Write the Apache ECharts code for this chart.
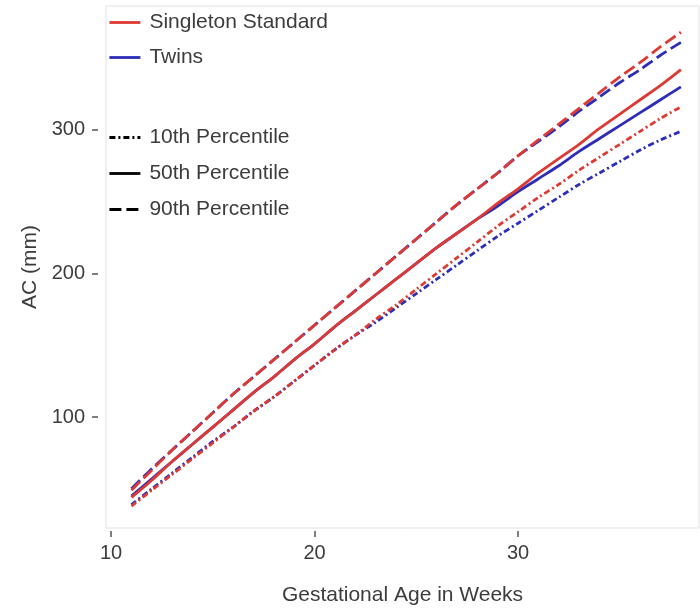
<!DOCTYPE html>
<html>
<head>
<meta charset="utf-8">
<script src="https://cdn.jsdelivr.net/npm/echarts@6/dist/echarts.min.js"></script>
<style>
html,body{margin:0;padding:0;background:#fff;}
#chart{width:700px;height:611px;}
</style>
</head>
<body>
<div id="chart"></div>
<script>
const weeks = [11,12,13,14,15,16,17,18,19,20,21,22,23,24,25,26,27,28,29,30,31,32,33,34,35,36,37,38];

const singleton10 = [38,49,60,71,82,93,104,114,125,136,147,157,168,178,189,200,211,222,233,243,253,262,272,281,290,299,308,316];
const singleton50 = [44,56,69,81,93,105,117,128,140,151,163,174,185,196,207,218,228,238,249,259,270,280,290,301,311,321,331,342];
const singleton90 = [49,63,77,90,103,116,128,140,152,164,176,188,200,212,224,236,248,259,270,282,293,304,315,326,337,347,358,368];

const twins10 = [39,50,61,72,83,93,104,114,125,136,147,157,166,176,186,196,206,216,226,235,244,253,262,270,278,286,293,299];
const twins50 = [45,57,69,81,93,105,117,128,140,151,163,174,185,196,207,218,228,238,247,257,266,275,285,294,303,312,321,330];
const twins90 = [50,64,77,90,103,116,128,140,152,164,176,188,200,212,224,236,248,259,270,282,292,302,313,323,333,342,352,361];

const xTicks = [10,20,30];
const yTicks = [100,200,300];

const groupNames = ['Singleton Standard','Twins'];
const pctNames = ['10th Percentile','50th Percentile','90th Percentile'];

const RED = '#de3a34';
const BLUE = '#2d2db8';
const DASH = [12,5];
const DASHDOT = [6,3,2,3];
const LW = 2.8;

function pts(vals){ return weeks.map((w,i)=>[w, vals[i]]); }

function mk(name, vals, color, type){
  return {
    name: name, type: 'line', data: pts(vals), symbol: 'none', smooth: 0.3,
    lineStyle: {color: color, width: LW, type: type},
    itemStyle: {color: color},
    emphasis: {disabled: true}, silent: true, animation: false
  };
}

function dummy(name, type){
  return {name: name, type: 'line', data: [], symbol: 'none',
    lineStyle: {color: '#000', width: LW, type: type}, itemStyle: {color: '#000'}};
}

const series = [
  mk(groupNames[1], twins50, BLUE, 'solid'),
  mk(groupNames[1], twins10, BLUE, DASHDOT),
  mk(groupNames[1], twins90, BLUE, DASH),
  mk(groupNames[0], singleton50, RED, 'solid'),
  mk(groupNames[0], singleton10, RED, DASHDOT),
  mk(groupNames[0], singleton90, RED, DASH),
  dummy(pctNames[0], DASHDOT),
  dummy(pctNames[1], 'solid'),
  dummy(pctNames[2], DASH)
];

const FONT = 'Liberation Sans, Arial, sans-serif';
const TXT = '#3c3c3c';
const legText = {fontSize: 21, color: TXT, fontFamily: FONT, padding: [0,0,0,4]};
const hide = {opacity: 0};

const chart = echarts.init(document.getElementById('chart'), null, {renderer: 'canvas'});
chart.setOption({
  animation: false,
  backgroundColor: '#fff',
  grid: {left: 106, right: 1, top: 6, bottom: 83, show: true, borderColor: '#e2e2e2', borderWidth: 1},
  legend: [
    {
      id: 'grp', orient: 'vertical', left: 108, top: 12, padding: 0, itemWidth: 31, itemHeight: 14, itemGap: 14,
      selectedMode: false, textStyle: legText,
      data: [
        {name: groupNames[0], itemStyle: hide, lineStyle: {color: RED, width: LW, type: 'solid'}},
        {name: groupNames[1], itemStyle: hide, lineStyle: {color: BLUE, width: LW, type: 'solid'}}
      ]
    },
    {
      id: 'pct', orient: 'vertical', left: 108, top: 127, padding: 0, itemWidth: 31, itemHeight: 14, itemGap: 15,
      selectedMode: false, textStyle: legText,
      data: [
        {name: pctNames[0], itemStyle: hide, lineStyle: {color: '#000', width: LW, type: DASHDOT}},
        {name: pctNames[1], itemStyle: hide, lineStyle: {color: '#000', width: LW, type: 'solid'}},
        {name: pctNames[2], itemStyle: hide, lineStyle: {color: '#000', width: LW, type: DASH}}
      ]
    }
  ],
  xAxis: {
    type: 'value', min: 9.75, max: 38.89, offset: 3,
    name: 'Gestational Age in Weeks', nameLocation: 'middle', nameGap: 54,
    nameTextStyle: {fontSize: 21, color: TXT, fontFamily: FONT},
    axisLine: {show: false},
    axisTick: {show: true, length: 6, customValues: xTicks, lineStyle: {color: '#555', width: 1.5}},
    axisLabel: {customValues: xTicks, fontSize: 20, color: TXT, fontFamily: FONT, margin: 12},
    splitLine: {show: false}
  },
  yAxis: {
    type: 'value', min: 22.7, max: 386.3, offset: 8,
    name: 'AC (mm)', nameLocation: 'middle', nameGap: 57,
    nameTextStyle: {fontSize: 21, color: TXT, fontFamily: FONT},
    axisLine: {show: false},
    axisTick: {show: true, length: 6, customValues: yTicks, lineStyle: {color: '#555', width: 1.5}},
    axisLabel: {customValues: yTicks, fontSize: 20, color: TXT, fontFamily: FONT, margin: 13},
    splitLine: {show: false}
  },
  series: series
});
</script>
</body>
</html>
